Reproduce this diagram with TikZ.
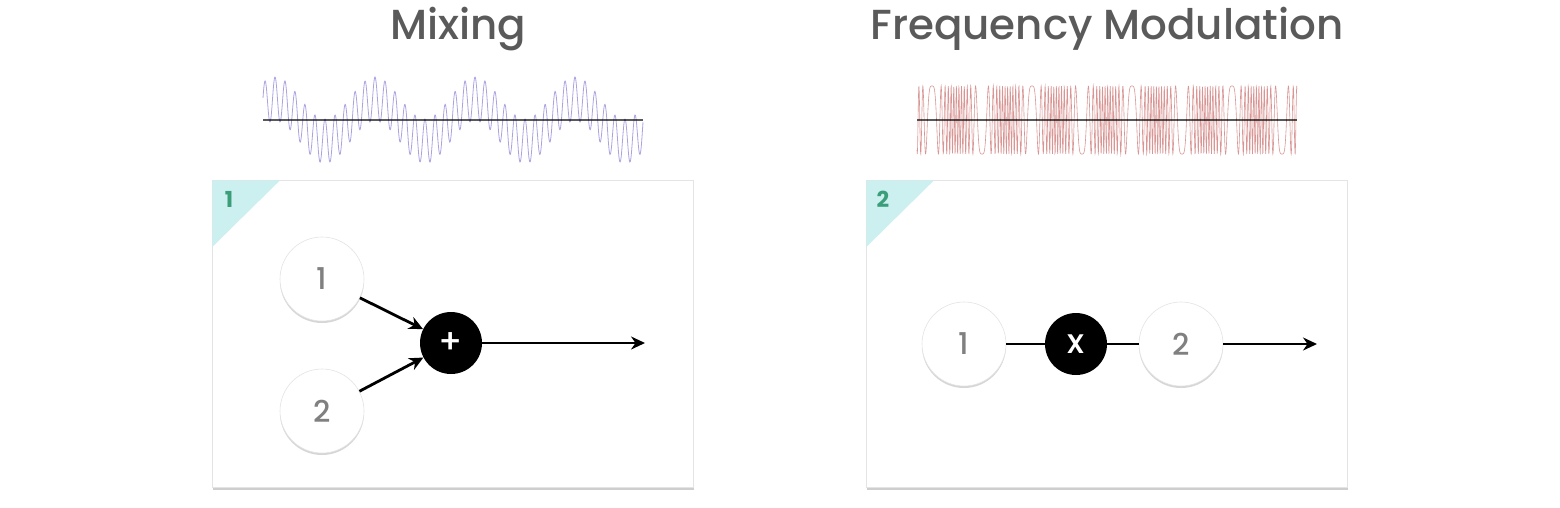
\documentclass[tikz,border=0pt]{standalone}
\usepackage{fontspec}
\setmainfont{Poppins}
\newfontfamily\medfont{Poppins Medium}
\usetikzlibrary{arrows.meta,shadows}
\definecolor{titlegray}{HTML}{5A5A5A}
\definecolor{numgray}{HTML}{808080}
\definecolor{tealtri}{HTML}{CCEFF0}
\definecolor{cornergreen}{HTML}{3A9E78}
\definecolor{mixwave}{HTML}{8D84D6}
\definecolor{fmwave}{HTML}{C45A5A}
\definecolor{boxline}{HTML}{E4E4E4}
\begin{document}
\begin{tikzpicture}[x=1pt,y=-1pt,
  titletext/.style={anchor=base,text=titlegray,font=\medfont\fontsize{42}{46}\selectfont},
  panel/.style={fill=white,draw=boxline,line width=0.6pt,
    drop shadow={shadow xshift=0.5pt,shadow yshift=-2.5pt,opacity=0.35,fill=black!55}},
  cornertri/.style={fill=tealtri,draw=none},
  cornerlabel/.style={text=cornergreen,font=\bfseries\fontsize{22}{24}\selectfont},
  numnode/.style={circle,minimum size=84pt,inner sep=0pt,fill=white,draw=black!11,line width=0.6pt,
    text=numgray,font=\medfont\fontsize{30}{32}\selectfont,
    drop shadow={shadow xshift=0pt,shadow yshift=-2pt,opacity=0.2,fill=black!80}},
  opnode/.style={circle,minimum size=62pt,inner sep=0pt,fill=black,draw=none,
    text=white,font=\medfont\fontsize{34}{36}\selectfont},
  link/.style={draw=black,line width=2.8pt},
  flow/.style={link,-{Stealth[length=14pt,width=13pt]}},
  baseline/.style={draw=black,opacity=0.65,line width=2.2pt},
  mixline/.style={draw=mixwave,opacity=0.75,line width=0.8pt},
  fmline/.style={draw=fmwave,opacity=0.65,line width=0.6pt}
]
\useasboundingbox (0,0) rectangle (1560,507);

% titles
\node[titletext] (t1) at (458,39) {Mixing};
\node[titletext] (t2) at (1107,39) {Frequency Modulation};

% waves
\draw[mixline] plot[domain=263:643,samples=900]
  (\x,{120-21*sin(3.6*(\x-250))-22*sin(36*(\x-272.5))});
\draw[baseline] (263,120) -- (643,120);

\draw[fmline] plot[domain=917:1297,samples=1700]
  (\x,{120-34*sin(2250*sin(3.6*(\x-907)))});
\draw[baseline] (917,120) -- (1297,120);

% panel 1
\path[panel] (212,180) rectangle (693,487);
\fill[cornertri] (212.3,180.3) -- (280,180.3) -- (212.3,247) -- cycle;
\node[cornerlabel] (c1) at (229,199) {1};

\node[numnode] (a1) at (322,279) {1};
\node[numnode] (a2) at (322,411) {2};
\node[opnode] (plus) at (451,343) {+};
\coordinate (out1) at (645,343);
\draw[flow] (a1) -- (plus);
\draw[flow] (a2) -- (plus);
\draw[flow] (plus) -- (out1);

% panel 2
\path[panel] (866,180) rectangle (1347,487);
\fill[cornertri] (866.3,180.3) -- (934,180.3) -- (866.3,247) -- cycle;
\node[cornerlabel] (c2) at (883,199) {2};

\node[numnode] (b1) at (964,344) {1};
\node[opnode] (times) at (1076,344) {x};
\node[numnode] (b2) at (1181,344) {2};
\coordinate (out2) at (1317,344);
\draw[link] (b1) -- (times);
\draw[link] (times) -- (b2);
\draw[flow] (b2) -- (out2);
\end{tikzpicture}
\end{document}
